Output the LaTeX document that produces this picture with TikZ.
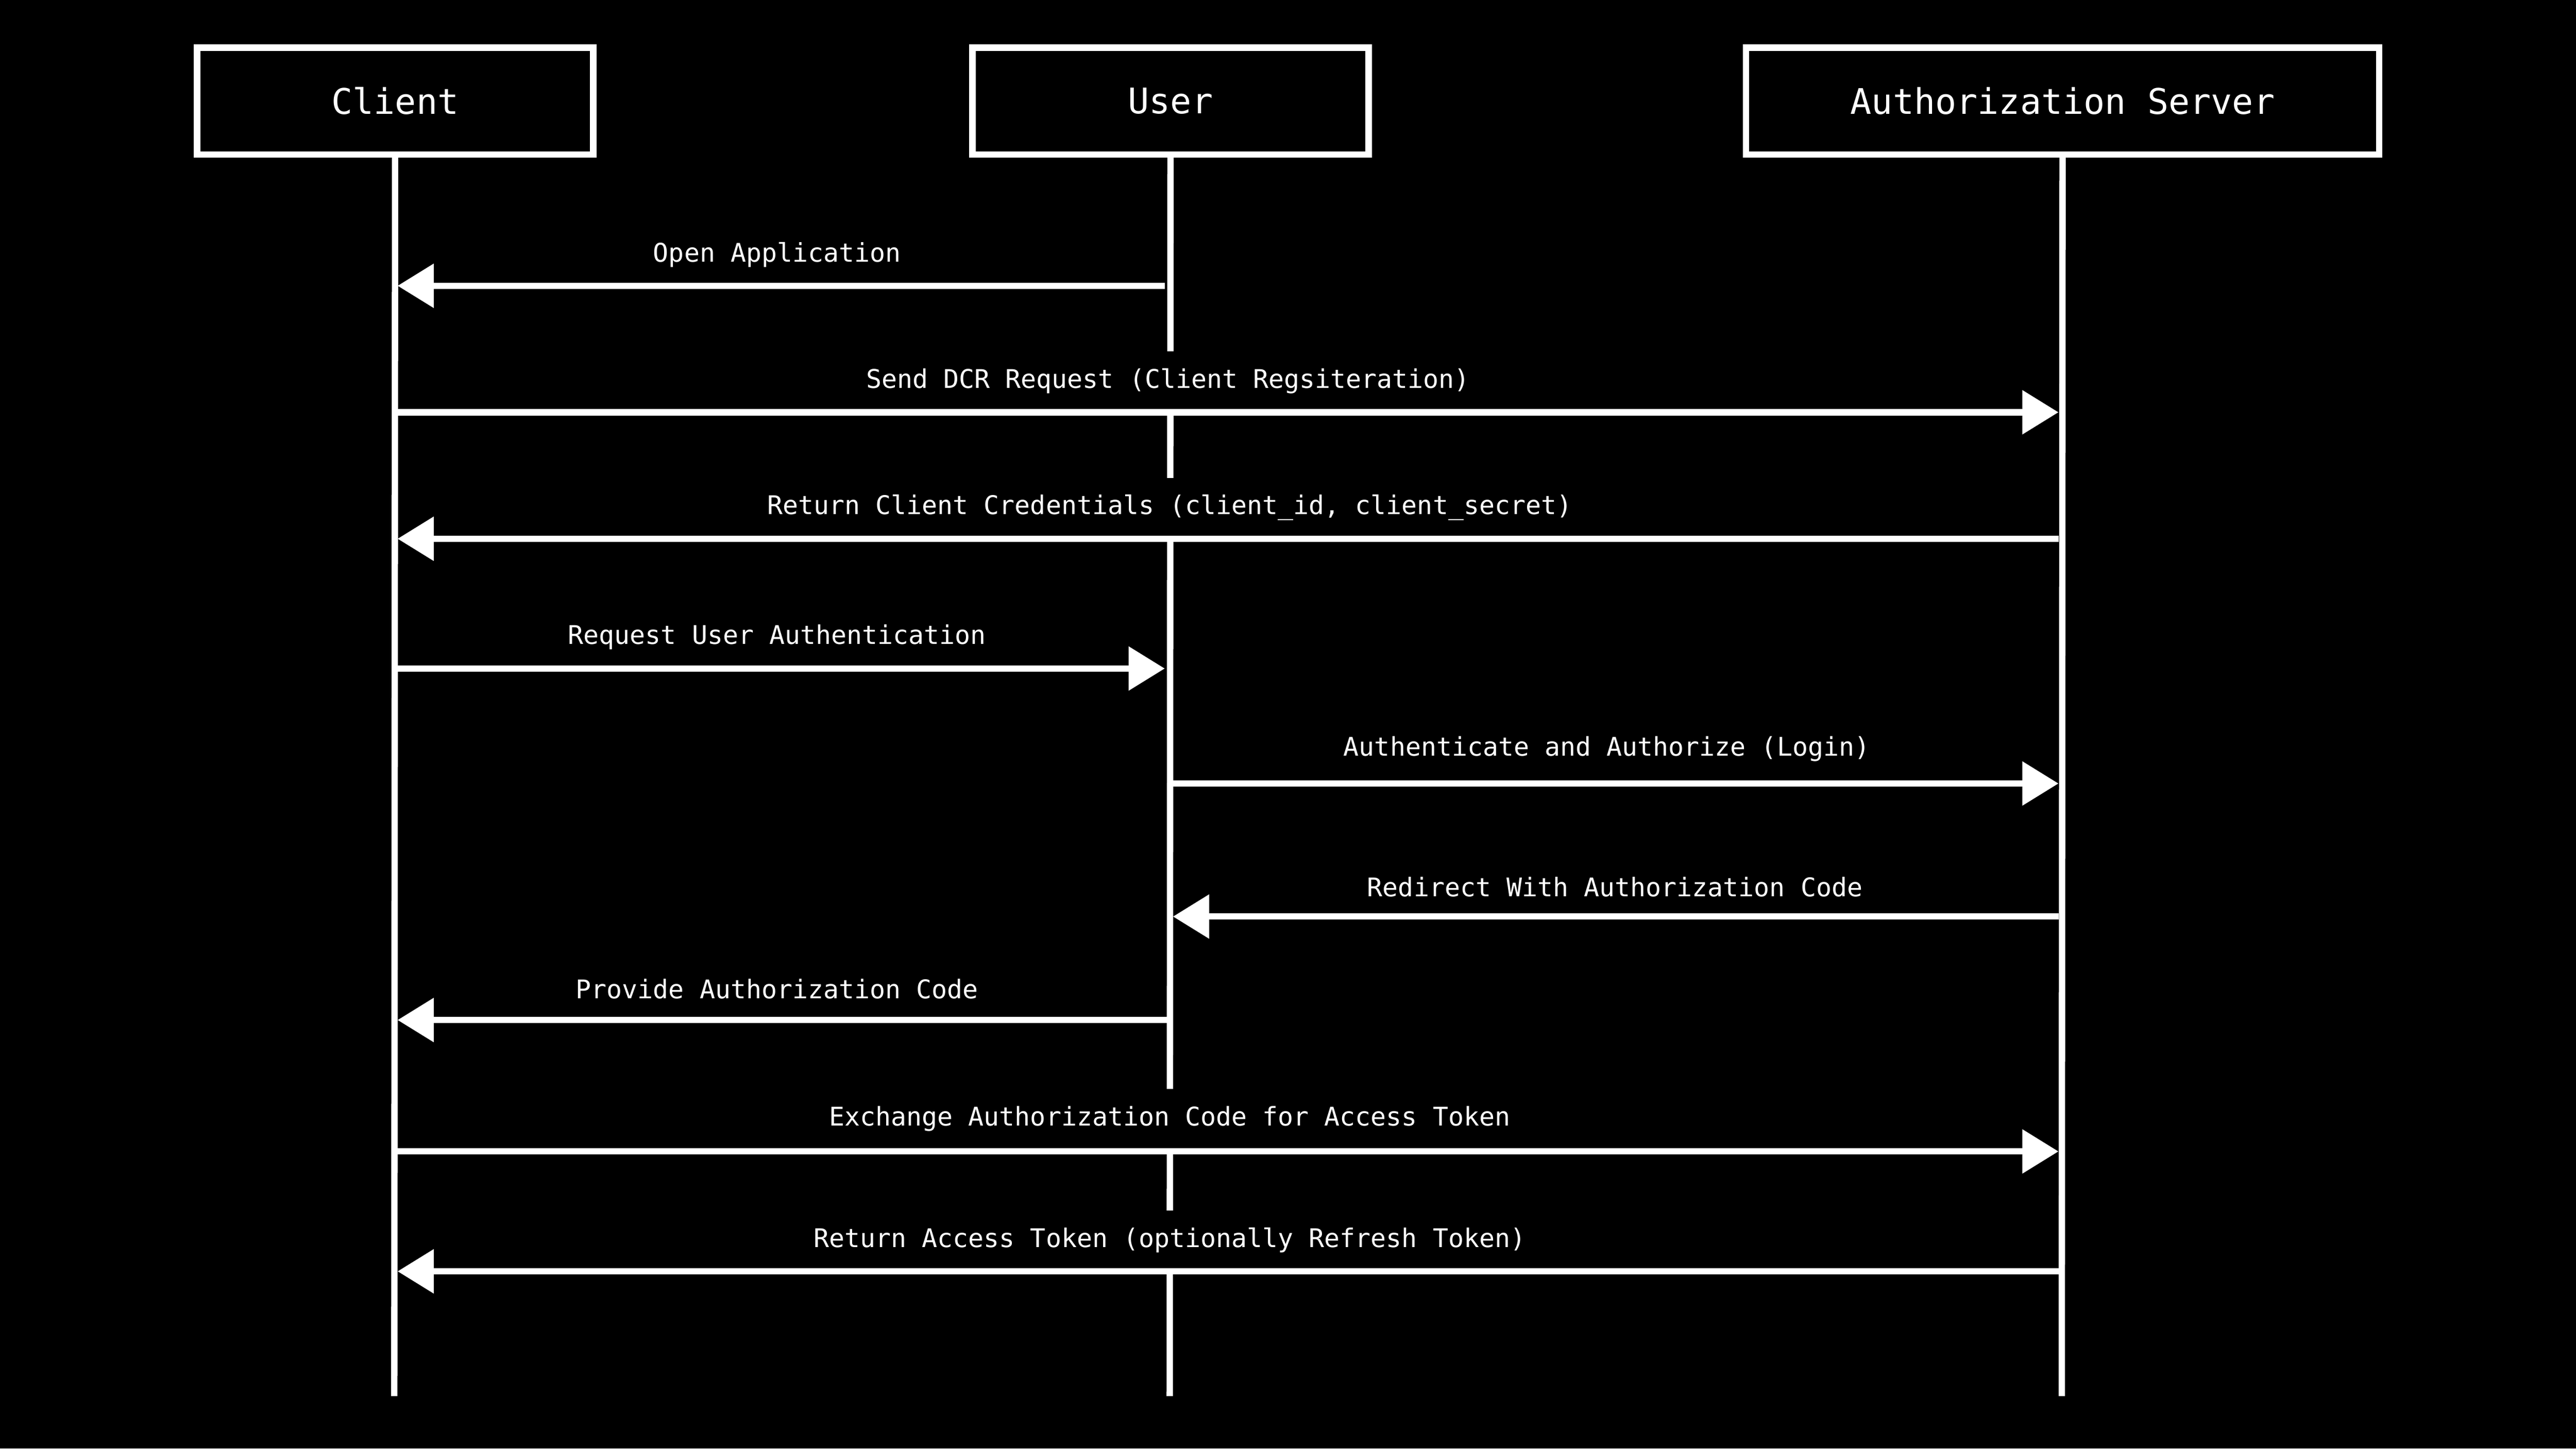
\documentclass[tikz,border=0pt]{standalone}
\usepackage{fontspec}
\setmonofont{DejaVu Sans Mono}
\usetikzlibrary{arrows.meta}
\begin{document}
\begin{tikzpicture}[x=0.01cm,y=-0.01cm,
  chalk/.style={draw=white,line width=1.1pt},
  actor/.style={chalk,minimum width=2.41cm,minimum height=0.65cm,inner sep=0pt,font=\ttfamily\fontsize{6.1pt}{7pt}\selectfont,text=white},
  lbl/.style={fill=black,text=white,inner sep=0pt,minimum height=0.36cm,font=\ttfamily\fontsize{4.45pt}{5pt}\selectfont},
  msg/.style={chalk,-{Triangle[length=0.22cm,width=0.26cm,fill=white]}}]
\fill[black] (0,0) rectangle (1568,882);
\node[actor] (client) at (240.5,61.5) {Client};
\node[actor] (user) at (712.5,61.5) {User};
\node[actor,minimum width=3.85cm] (auth) at (1255.5,61.5) {Authorization Server};
\coordinate (ce) at (240,850);
\coordinate (ue) at (712,850);
\coordinate (ae) at (1255,850);
\draw[chalk] (client) -- (ce);
\draw[chalk] (user) -- (ue);
\draw[chalk] (auth) -- (ae);
% labels
\node[lbl] (l1) at (473,155) {Open Application};
\node[lbl] (l2) at (711,232) {Send DCR Request (Client Regsiteration)};
\node[lbl] (l3) at (712,309) {Return Client Credentials (client\_id, client\_secret)};
\node[lbl] (l4) at (473,388) {Request User Authentication};
\node[lbl] (l5) at (978,456) {Authenticate and Authorize (Login)};
\node[lbl] (l6) at (983,540) {Redirect With Authorization Code};
\node[lbl] (l7) at (473,602) {Provide Authorization Code};
\node[lbl] (l8) at (712,681) {Exchange Authorization Code for Access Token};
\node[lbl] (l9) at (712,755) {Return Access Token (optionally Refresh Token)};
% row coordinates
\foreach \n/\y in {1/174,2/251,3/328,4/407,5/477,6/558,7/621,8/701,9/774}{
  \coordinate (c\n) at (242,\y);
  \coordinate (u\n) at (709,\y);
  \coordinate (a\n) at (1253,\y);
  \coordinate (uR\n) at (714,\y);
}
\draw[msg] (u1) -- (c1);
\draw[msg] (c2) -- (a2);
\draw[msg] (a3) -- (c3);
\draw[msg] (c4) -- (u4);
\draw[msg] (uR5) -- (a5);
\draw[msg] (a6) -- (uR6);
\draw[msg] (uR7) -- (c7);
\draw[msg] (c8) -- (a8);
\draw[msg] (a9) -- (c9);
\end{tikzpicture}
\end{document}
